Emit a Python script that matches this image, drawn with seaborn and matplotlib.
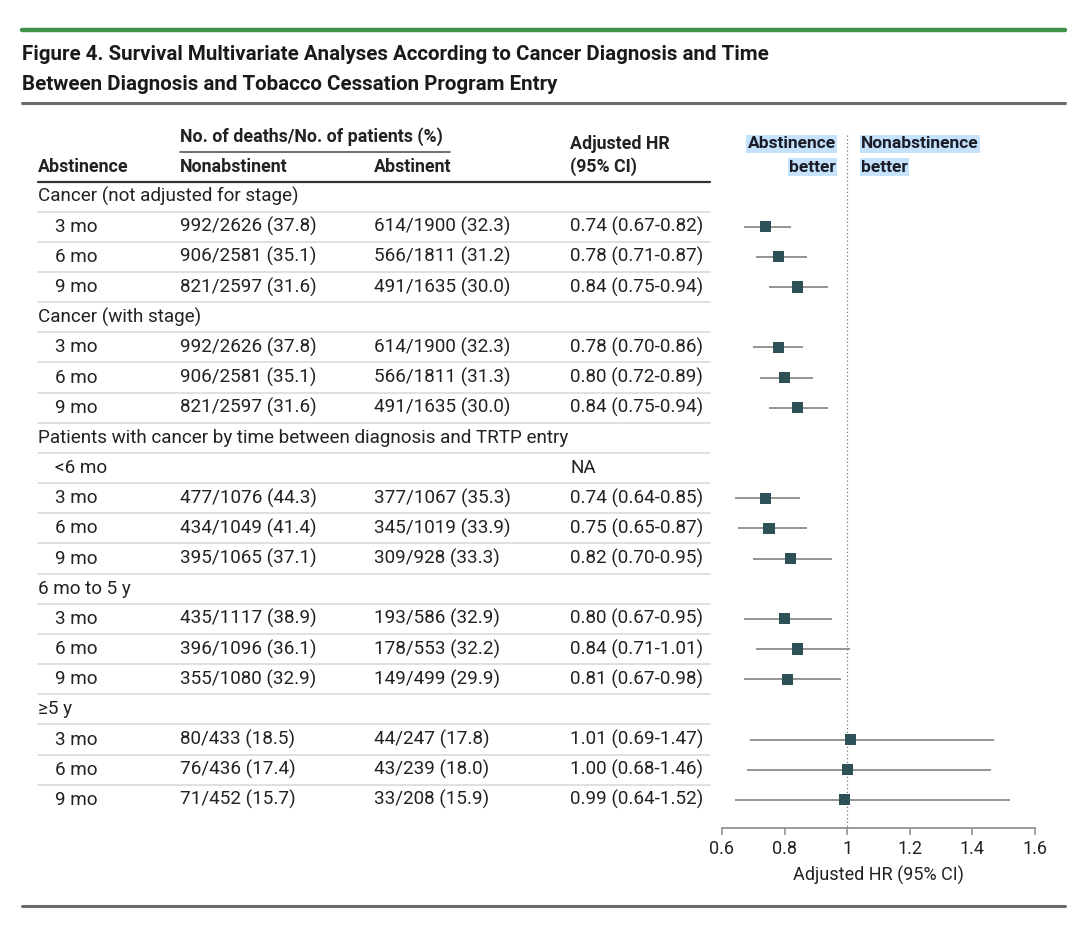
import matplotlib
matplotlib.use("Agg")
import matplotlib.pyplot as plt
import matplotlib.transforms as mtransforms
from matplotlib import font_manager
from matplotlib.lines import Line2D
from matplotlib.ticker import FuncFormatter
import pandas as pd
import seaborn as sns

sns.set_style("white")
plt.rcParams["font.family"] = ["Roboto", "DejaVu Sans"]

# ---- data ----
row_labels = [
    "Cancer (not adjusted for stage)", "3 mo", "6 mo", "9 mo",
    "Cancer (with stage)", "3 mo", "6 mo", "9 mo",
    "Patients with cancer by time between diagnosis and TRTP entry",
    "<6 mo", "3 mo", "6 mo", "9 mo",
    "6 mo to 5 y", "3 mo", "6 mo", "9 mo",
    "\u22655 y", "3 mo", "6 mo", "9 mo",
]
section_labels = [
    "Cancer (not adjusted for stage)", "Cancer (with stage)",
    "Patients with cancer by time between diagnosis and TRTP entry",
    "6 mo to 5 y", "\u22655 y",
]
na_labels = ["<6 mo"]

nonabstinent = [
    None, "992/2626 (37.8)", "906/2581 (35.1)", "821/2597 (31.6)",
    None, "992/2626 (37.8)", "906/2581 (35.1)", "821/2597 (31.6)",
    None, None, "477/1076 (44.3)", "434/1049 (41.4)", "395/1065 (37.1)",
    None, "435/1117 (38.9)", "396/1096 (36.1)", "355/1080 (32.9)",
    None, "80/433 (18.5)", "76/436 (17.4)", "71/452 (15.7)",
]
abstinent = [
    None, "614/1900 (32.3)", "566/1811 (31.2)", "491/1635 (30.0)",
    None, "614/1900 (32.3)", "566/1811 (31.3)", "491/1635 (30.0)",
    None, None, "377/1067 (35.3)", "345/1019 (33.9)", "309/928 (33.3)",
    None, "193/586 (32.9)", "178/553 (32.2)", "149/499 (29.9)",
    None, "44/247 (17.8)", "43/239 (18.0)", "33/208 (15.9)",
]
hr = [None, 0.74, 0.78, 0.84, None, 0.78, 0.80, 0.84, None, None, 0.74, 0.75, 0.82,
      None, 0.80, 0.84, 0.81, None, 1.01, 1.00, 0.99]
hr_lo = [None, 0.67, 0.71, 0.75, None, 0.70, 0.72, 0.75, None, None, 0.64, 0.65, 0.70,
         None, 0.67, 0.71, 0.67, None, 0.69, 0.68, 0.64]
hr_hi = [None, 0.82, 0.87, 0.94, None, 0.86, 0.89, 0.94, None, None, 0.85, 0.87, 0.95,
         None, 0.95, 1.01, 0.98, None, 1.47, 1.46, 1.52]
x_ticks = [0.6, 0.8, 1.0, 1.2, 1.4, 1.6]

df = pd.DataFrame({"label": row_labels, "nonab": nonabstinent, "abst": abstinent,
                   "hr": hr, "lo": hr_lo, "hi": hr_hi})
df["row"] = range(len(df))
est = df.dropna(subset=["hr"])

# ---- figure geometry (pixels) ----
W, H = 1080, 931
def fx(px): return px / W
def fy(px): return 1 - px / H

row0_px, row_step = 196.5, 30.17
ax_top_px, ax_bot_px = 121, 828
text_col = "#222222"
body_size = 13.6

names = {f.name for f in font_manager.fontManager.ttflist}
title_font = "Liberation Sans Narrow" if "Liberation Sans Narrow" in names else "Roboto"

fig = plt.figure(figsize=(W / 100, H / 100), dpi=100)
ax = fig.add_axes([fx(722), fy(ax_bot_px), 313 / W, (ax_bot_px - ax_top_px) / H])
ax.set_xlim(0.6, 1.6)
ax.set_ylim((ax_bot_px - row0_px) / row_step, (ax_top_px - row0_px) / row_step)

# forest plot
ax.hlines(est["row"], est["lo"], est["hi"], color="#8c8c8c", lw=1.3, zorder=2)
sns.scatterplot(data=est, x="hr", y="row", marker="s", s=64, color="#2d5156",
                edgecolor="none", ax=ax, zorder=3)
ax.vlines(1.0, (135 - row0_px) / row_step, ax.get_ylim()[0], colors="#777777",
          linestyles=(0, (1, 2)), lw=0.9, zorder=1)

for s in ["left", "right", "top"]:
    ax.spines[s].set_visible(False)
ax.spines["bottom"].set_color("#8a8a8a")
ax.spines["bottom"].set_linewidth(1.2)
ax.set_yticks([])
ax.set_xticks(x_ticks)
ax.xaxis.set_major_formatter(FuncFormatter(lambda v, p: "%g" % v))
ax.tick_params(axis="x", direction="out", length=5, width=1.1, color="#8a8a8a",
               labelsize=13, labelcolor=text_col, pad=4, bottom=True)
ax.set_xlabel("Adjusted HR (95% CI)", fontsize=13, color=text_col, labelpad=5)
ax.set_ylabel("")
ax.patch.set_alpha(0)

# favours labels with highlight
hl = dict(boxstyle="square,pad=0.08", fc="#c4e2fb", ec="none")
for txt, y in [("Abstinence", 144), ("better", 167)]:
    fig.text(fx(836), fy(y), txt, ha="right", va="center", fontsize=12.5,
             fontweight="semibold", color="#1c1c28", bbox=hl)
for txt, y in [("Nonabstinence", 144), ("better", 167)]:
    fig.text(fx(861), fy(y), txt, ha="left", va="center", fontsize=12.5,
             fontweight="semibold", color="#1c1c28", bbox=hl)

# table text
tr = mtransforms.blended_transform_factory(fig.transFigure, ax.transData)
for _, r in df.iterrows():
    is_section = r["label"] in section_labels
    ax.text(fx(38 if is_section else 55), r["row"], r["label"], transform=tr,
            ha="left", va="center", fontsize=body_size, color=text_col)
    if r["nonab"]:
        ax.text(fx(180), r["row"], r["nonab"], transform=tr, ha="left", va="center",
                fontsize=body_size, color=text_col)
        ax.text(fx(374), r["row"], r["abst"], transform=tr, ha="left", va="center",
                fontsize=body_size, color=text_col)
    if pd.notna(r["hr"]):
        s = f"{r['hr']:.2f} ({r['lo']:.2f}-{r['hi']:.2f})"
        ax.text(fx(570), r["row"], s, transform=tr, ha="left", va="center",
                fontsize=body_size, color=text_col)
    elif r["label"] in na_labels:
        ax.text(fx(570), r["row"], "NA", transform=tr, ha="left", va="center",
                fontsize=body_size, color=text_col)
    if r["row"] < len(df) - 1:
        fig.add_artist(Line2D([fx(38), fx(710)], [r["row"] + 0.5] * 2, transform=tr,
                              color="#dcdcd4", lw=1.2))

# header
hdr = dict(fontsize=12.8, fontweight="semibold", color=text_col, va="center", ha="left")
fig.text(fx(180), fy(137), "No. of deaths/No. of patients (%)", **hdr)
fig.text(fx(38), fy(167), "Abstinence", **hdr)
fig.text(fx(180), fy(167), "Nonabstinent", **hdr)
fig.text(fx(374), fy(167), "Abstinent", **hdr)
fig.text(fx(570), fy(144), "Adjusted HR", **hdr)
fig.text(fx(570), fy(167), "(95% CI)", **hdr)
fig.add_artist(Line2D([fx(180), fx(450)], [fy(152)] * 2, color="#555555", lw=1.2))
fig.add_artist(Line2D([fx(38), fx(710)], [fy(182)] * 2, color="#333333", lw=1.6))

# title block
fig.add_artist(Line2D([fx(22), fx(1065)], [fy(30)] * 2, color="#3e9146", lw=3.2))
fig.text(fx(22), fy(55), "Figure 4. Survival Multivariate Analyses According to Cancer Diagnosis and Time",
         family=[title_font, "DejaVu Sans"], fontsize=14.8, fontweight="bold",
         color="#1a1a1a", ha="left", va="center")
fig.text(fx(22), fy(85), "Between Diagnosis and Tobacco Cessation Program Entry",
         family=[title_font, "DejaVu Sans"], fontsize=14.8, fontweight="bold",
         color="#1a1a1a", ha="left", va="center")
fig.add_artist(Line2D([fx(22), fx(1065)], [fy(103)] * 2, color="#6a6a6a", lw=2.2))
fig.add_artist(Line2D([fx(22), fx(1065)], [fy(906)] * 2, color="#6a6a6a", lw=2.2))

fig.savefig("out.png", dpi=100, facecolor="white")
